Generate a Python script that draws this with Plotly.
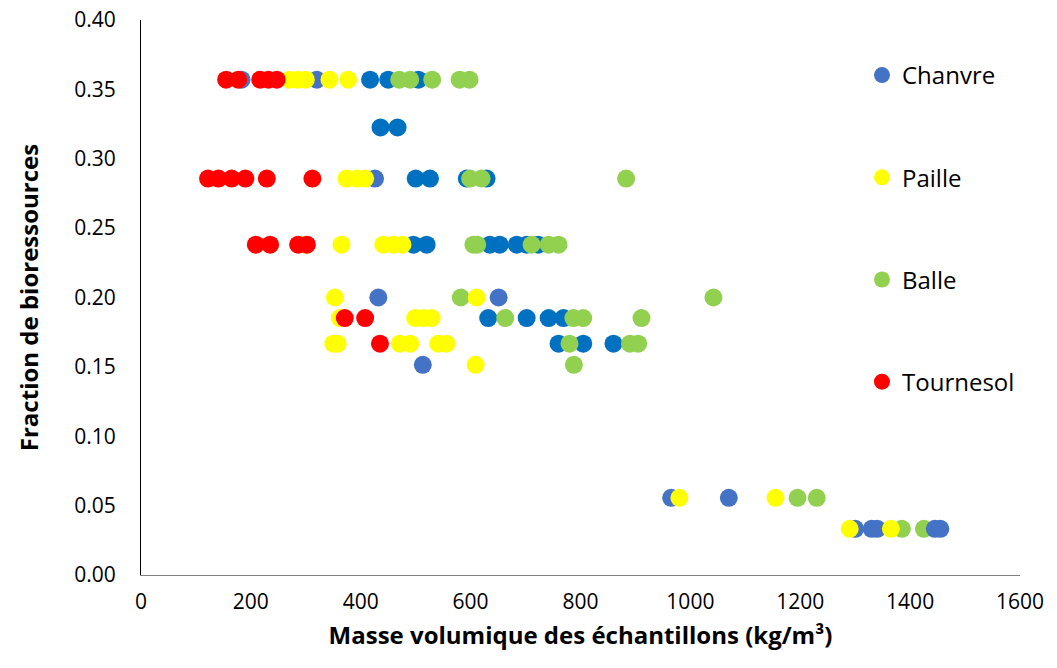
import plotly.graph_objects as go

# Chanvre (light blue)
chanvre_x = [183, 320, 426, 432, 651, 513, 965, 1070, 1300, 1330, 1340, 1445, 1455]
chanvre_y = [0.357, 0.357, 0.2857, 0.200, 0.200, 0.1515, 0.0556, 0.0556, 0.0333, 0.0333, 0.0333, 0.0333, 0.0333]

# Chanvre, second series (dark blue, not in legend)
chanvre2_x = [417, 450, 505, 436, 467, 500, 526, 593, 629,
              496, 520, 635, 653, 684, 702, 723, 632, 702, 742, 769, 760, 805, 860]
chanvre2_y = [0.357, 0.357, 0.357, 0.3226, 0.3226, 0.2857, 0.2857, 0.2857, 0.2857,
              0.2381, 0.2381, 0.2381, 0.2381, 0.2381, 0.2381, 0.2381, 0.1852, 0.1852, 0.1852, 0.1852,
              0.1667, 0.1667, 0.1667]

# Paille (yellow)
paille_x = [270, 285, 300, 343, 377, 374, 393, 408, 300, 365, 441, 459, 476,
            353, 611, 362, 499, 514, 529, 350, 358, 471, 490, 541, 556, 609, 980, 1155, 1290, 1365]
paille_y = [0.357, 0.357, 0.357, 0.357, 0.357, 0.2857, 0.2857, 0.2857, 0.2381, 0.2381, 0.2381, 0.2381, 0.2381,
            0.200, 0.200, 0.1852, 0.1852, 0.1852, 0.1852, 0.1667, 0.1667, 0.1667, 0.1667, 0.1667, 0.1667,
            0.1515, 0.0556, 0.0556, 0.0333, 0.0333]

# Balle (green)
balle_x = [470, 490, 530, 580, 598, 599, 620, 883, 605, 612, 711, 742, 760,
           582, 1042, 663, 787, 805, 911, 780, 890, 905, 788, 1195, 1230, 1385, 1425]
balle_y = [0.357, 0.357, 0.357, 0.357, 0.357, 0.2857, 0.2857, 0.2857, 0.2381, 0.2381, 0.2381, 0.2381, 0.2381,
           0.200, 0.200, 0.1852, 0.1852, 0.1852, 0.1852, 0.1667, 0.1667, 0.1667, 0.1515, 0.0556, 0.0556,
           0.0333, 0.0333]

# Tournesol (red)
tournesol_x = [155, 177, 217, 232, 247, 122, 141, 165, 190, 229, 312, 209, 235, 286, 302, 371, 408, 435]
tournesol_y = [0.357, 0.357, 0.357, 0.357, 0.357, 0.2857, 0.2857, 0.2857, 0.2857, 0.2857, 0.2857,
               0.2381, 0.2381, 0.2381, 0.2381, 0.1852, 0.1852, 0.1667]

x_ticks = [0, 200, 400, 600, 800, 1000, 1200, 1400, 1600]
y_ticks = [0.00, 0.05, 0.10, 0.15, 0.20, 0.25, 0.30, 0.35, 0.40]

FONT = "Open Sans"
MS = 18

fig = go.Figure()

def add(x, y, name, color, rank, show=True, group=None):
    fig.add_trace(go.Scatter(
        x=x, y=y, mode="markers", name=name,
        marker=dict(color=color, size=MS, line=dict(width=0)),
        showlegend=show, legendrank=rank, legendgroup=group or name,
    ))

add(chanvre2_x, chanvre2_y, "Chanvre 2", "#0070C0", 5, show=False, group="c2")
add(balle_x, balle_y, "Balle", "#92D050", 3)
add(chanvre_x, chanvre_y, "Chanvre", "#4472C4", 1)
add(paille_x, paille_y, "Paille", "#FFFF00", 2)
add(tournesol_x, tournesol_y, "Tournesol", "#FF0000", 4)

fig.update_layout(
    width=1057, height=668,
    margin=dict(l=141, r=37, t=20, b=93),
    paper_bgcolor="white", plot_bgcolor="white",
    font=dict(family=FONT, color="#000000", size=20),
    showlegend=True,
    legend=dict(
        x=(862 - 141) / 879, y=1 - (53 - 20) / 555, xanchor="left", yanchor="top",
        font=dict(family=FONT, size=24, color="#000000"),
        tracegroupgap=68, itemsizing="trace", bgcolor="rgba(0,0,0,0)",
    ),
    xaxis=dict(
        range=[0, 1600], tickvals=x_ticks, ticktext=[str(v) for v in x_ticks],
        showgrid=False, zeroline=False, showline=True, linecolor="#808080", linewidth=1,
        automargin=False,
        ticks="", ticklabelstandoff=8, tickfont=dict(family=FONT, size=21, color="#000000"),
        title=dict(text="<b>Masse volumique des échantillons (kg/m³)</b>",
                   font=dict(family=FONT, size=24, color="#000000"), standoff=12),
    ),
    yaxis=dict(
        range=[0, 0.40], tickvals=y_ticks, ticktext=[f"{v:.2f}" for v in y_ticks],
        showgrid=False, zeroline=False, showline=True, linecolor="#000000", linewidth=1,
        automargin=False,
        ticks="", ticklabelstandoff=20, tickfont=dict(family=FONT, size=21, color="#000000"),
        title=dict(text="<b>Fraction de bioressources</b>",
                   font=dict(family=FONT, size=24, color="#000000"), standoff=28),
    ),
)

fig.write_html("out.html", config={"displayModeBar": False},
               post_script="document.body.style.margin='0';")
